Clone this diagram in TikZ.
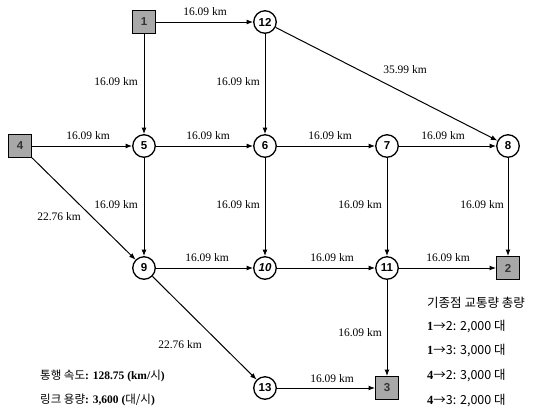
\documentclass[tikz,border=0pt]{standalone}
\usepackage{fontspec}
\setmainfont{Liberation Serif}
\setsansfont{Liberation Sans}
\newfontfamily\kr{Noto Sans CJK KR}
\usetikzlibrary{arrows.meta}
\begin{document}
\begin{tikzpicture}[x=1pt,y=-1pt,
  cnode/.style={circle,draw=black,line width=1.3pt,fill=white,minimum size=22.5pt,inner sep=0pt,font=\sffamily\bfseries\fontsize{11.5}{11.5}\selectfont},
  snode/.style={rectangle,draw=black,line width=1pt,fill=gray!68,minimum size=23pt,inner sep=0pt,font=\sffamily\bfseries\fontsize{11.5}{11.5}\selectfont,text=black!80},
  edge/.style={draw=black,line width=1pt,-{Latex[length=6.5pt,width=5pt]}},
  lbl/.style={font=\fontsize{11.5}{12}\selectfont,inner sep=0pt},
  leg/.style={anchor=west,inner sep=0pt,font=\fontsize{11.5}{12}\selectfont},
  legr/.style={anchor=west,inner sep=0pt,font=\fontsize{12.5}{13}\selectfont}]
\useasboundingbox (0,0) rectangle (551,416);
% nodes
\node[snode] (n1) at (144,22) {1};
\node[cnode] (n12) at (265,22) {12};
\node[snode] (n4) at (20,146) {4};
\node[cnode] (n5) at (144,146) {5};
\node[cnode] (n6) at (265,146) {6};
\node[cnode] (n7) at (387,146) {7};
\node[cnode] (n8) at (508,146) {8};
\node[cnode] (n9) at (144,268) {9};
\node[cnode] (n10) at (265,268) {\itshape 10};
\node[cnode] (n11) at (387,268) {11};
\node[snode] (n2) at (508,268) {2};
\node[cnode] (n13) at (265,388) {13};
\node[snode] (n3) at (387,388) {3};
% edges
\draw[edge] (n1) -- (n12);
\draw[edge] (n1) -- (n5);
\draw[edge] (n12) -- (n6);
\draw[edge] (n12) -- (n8);
\draw[edge] (n4) -- (n5);
\draw[edge] (n5) -- (n6);
\draw[edge] (n6) -- (n7);
\draw[edge] (n7) -- (n8);
\draw[edge] (n4) -- (n9);
\draw[edge] (n5) -- (n9);
\draw[edge] (n6) -- (n10);
\draw[edge] (n7) -- (n11);
\draw[edge] (n8) -- (n2);
\draw[edge] (n9) -- (n10);
\draw[edge] (n10) -- (n11);
\draw[edge] (n11) -- (n2);
\draw[edge] (n9) -- (n13);
\draw[edge] (n11) -- (n3);
\draw[edge] (n13) -- (n3);
% edge labels
\node[lbl] (l1) at (205,12) {16.09 km};
\node[lbl] (l2) at (116,82) {16.09 km};
\node[lbl] (l3) at (238,82) {16.09 km};
\node[lbl] (l4) at (405,70) {35.99 km};
\node[lbl] (l5) at (88,136) {16.09 km};
\node[lbl] (l6) at (208,136) {16.09 km};
\node[lbl] (l7) at (330,136) {16.09 km};
\node[lbl] (l8) at (443,136) {16.09 km};
\node[lbl] (l9) at (116,205) {16.09 km};
\node[lbl] (l10) at (238,205) {16.09 km};
\node[lbl] (l11) at (360,205) {16.09 km};
\node[lbl] (l12) at (482,205) {16.09 km};
\node[lbl] (l13) at (59,217) {22.76 km};
\node[lbl] (l14) at (207,258) {16.09 km};
\node[lbl] (l15) at (332,258) {16.09 km};
\node[lbl] (l16) at (448,258) {16.09 km};
\node[lbl] (l17) at (180,345) {22.76 km};
\node[lbl] (l18) at (360,333) {16.09 km};
\node[lbl] (l19) at (332,379) {16.09 km};
% legends
\node[leg] (g1) at (40,376) {{\kr 통행 속도}\textbf{: 128.75 (km/}{\kr 시}\textbf{)}};
\node[leg] (g2) at (40,400) {{\kr 링크 용량}\textbf{: 3,600 (}{\kr 대/시}\textbf{)}};
\node[legr] (h0) at (427,303) {\kr 기종점 교통량 총량};
\node[legr] (h1) at (427,327) {\textbf{1}{\kr →2: 2,000 대}};
\node[legr] (h2) at (427,351) {\textbf{1}{\kr →3: 3,000 대}};
\node[legr] (h3) at (427,376) {\textbf{4}{\kr →2: 3,000 대}};
\node[legr] (h4) at (427,401) {\textbf{4}{\kr →3: 2,000 대}};
\end{tikzpicture}
\end{document}
